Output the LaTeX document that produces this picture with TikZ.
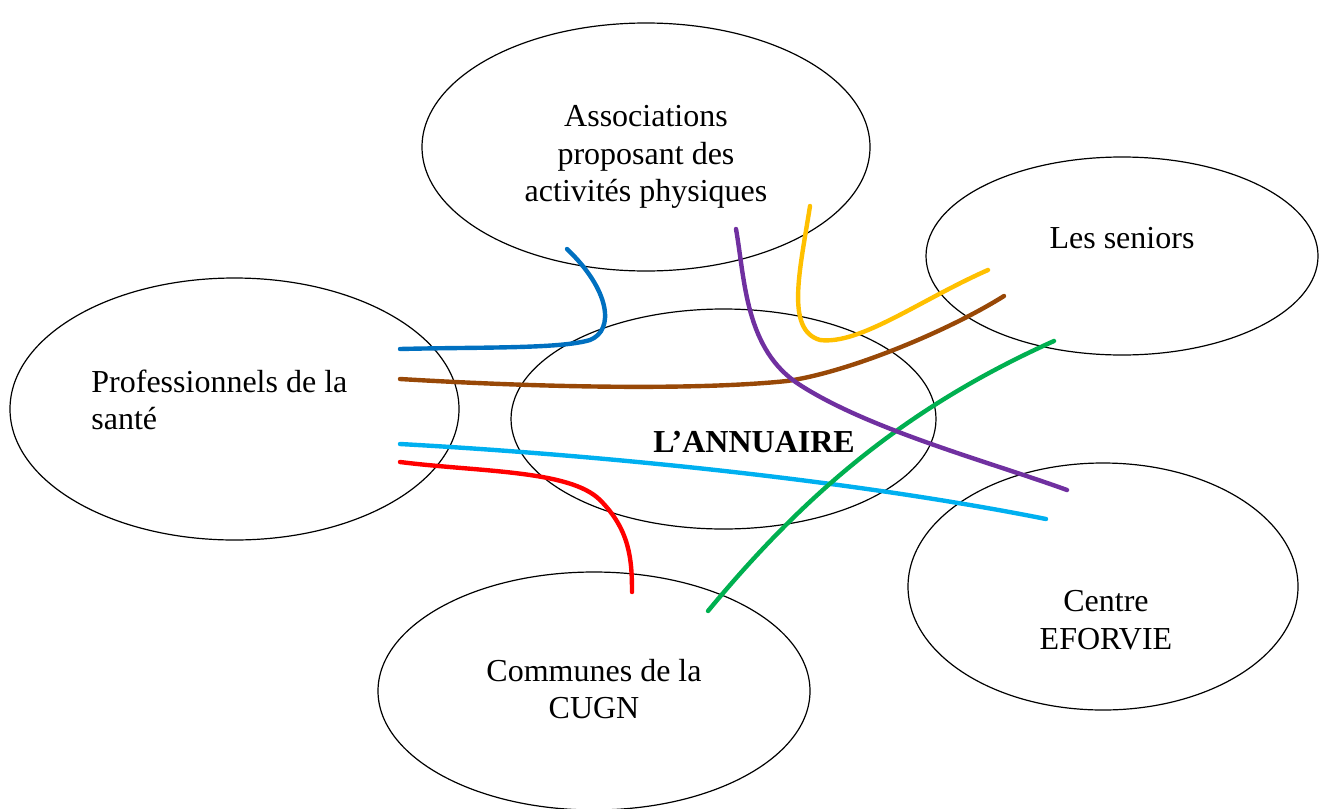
\documentclass[tikz,border=0pt]{standalone}
\usepackage{fontspec}
\setmainfont{Liberation Serif}
\usetikzlibrary{shapes.geometric}
\definecolor{cblue}{HTML}{0070C0}
\definecolor{cbrown}{HTML}{984807}
\definecolor{clight}{HTML}{00B0F0}
\definecolor{cred}{HTML}{FF0000}
\definecolor{cgreen}{HTML}{00B050}
\definecolor{cpurple}{HTML}{7030A0}
\definecolor{cyellow}{HTML}{FFC000}
\tikzset{
  bubble/.style={draw=black, line width=0.6pt, ellipse, inner sep=0pt},
  lbl/.style={font=\fontsize{16}{18.75}\selectfont, align=center, inner sep=0pt},
  link/.style={line width=2.2pt, line cap=round}
}
\begin{document}
\begin{tikzpicture}[x=0.5pt,y=-0.5pt]
\useasboundingbox (0,0) rectangle (1325,808);
% ellipses
\node[bubble, minimum width=448pt/2*1, minimum height=248pt/2] (assoc) at (646,147) {};
\node[bubble, minimum width=392pt/2, minimum height=198pt/2] (seniors) at (1122,256) {};
\node[bubble, minimum width=449pt/2, minimum height=262pt/2] (pros) at (234.5,409) {};
\node[bubble, minimum width=425pt/2, minimum height=220pt/2] (annu) at (723.5,419) {};
\node[bubble, minimum width=390pt/2, minimum height=247pt/2] (eforvie) at (1103,586.5) {};
\node[bubble, minimum width=432pt/2, minimum height=238pt/2] (communes) at (594,691) {};
% texts
\node[lbl] (tassoc) at (646,157) {Associations\\proposant des\\activités physiques};
\node[lbl] (tseniors) at (1122,238) {Les seniors};
\node[lbl, align=left, anchor=west] (tpros) at (91,400) {Professionnels de la\\santé};
\node[lbl, font=\fontsize{16}{18.75}\selectfont\bfseries] (tannu) at (754,442) {L’ANNUAIRE};
\node[lbl] (teforvie) at (1106,620) {Centre\\EFORVIE};
\node[lbl] (tcommunes) at (594,689) {Communes de la\\CUGN};
% connector end points
\coordinate (b1) at (400,349); \coordinate (b2) at (567,249);
\coordinate (n1) at (400,379); \coordinate (n2) at (1004,296);
\coordinate (l1) at (400,444); \coordinate (l2) at (1046,519);
\coordinate (r1) at (400,462); \coordinate (r2) at (632,592);
\coordinate (g1) at (708,611); \coordinate (g2) at (1054,341);
\coordinate (p1) at (736,229); \coordinate (p2) at (1067,490);
\coordinate (y1) at (810,206); \coordinate (y2) at (988,270);
% connectors
\draw[link, cblue] (b1) .. controls (480,347) and (560,349) .. (590,340)
   .. controls (615,330) and (610,290) .. (b2);
\draw[link, cbrown] (n1) .. controls (550,388) and (700,390) .. (787,381)
   .. controls (850,372) and (950,330) .. (n2);
\draw[link, clight] (l1) .. controls (600,455) and (850,480) .. (l2);
\draw[link, cred] (r1) .. controls (480,472) and (570,470) .. (600,500)
   .. controls (630,530) and (632,560) .. (r2);
\draw[link, cgreen] (g1) .. controls (800,500) and (900,410) .. (g2);
\draw[link, cpurple] (p1) .. controls (745,280) and (745,350) .. (800,385)
   .. controls (870,430) and (990,462) .. (p2);
\draw[link, cyellow] (y1) .. controls (800,270) and (785,330) .. (820,340)
   .. controls (860,345) and (920,300) .. (y2);
\end{tikzpicture}
\end{document}
